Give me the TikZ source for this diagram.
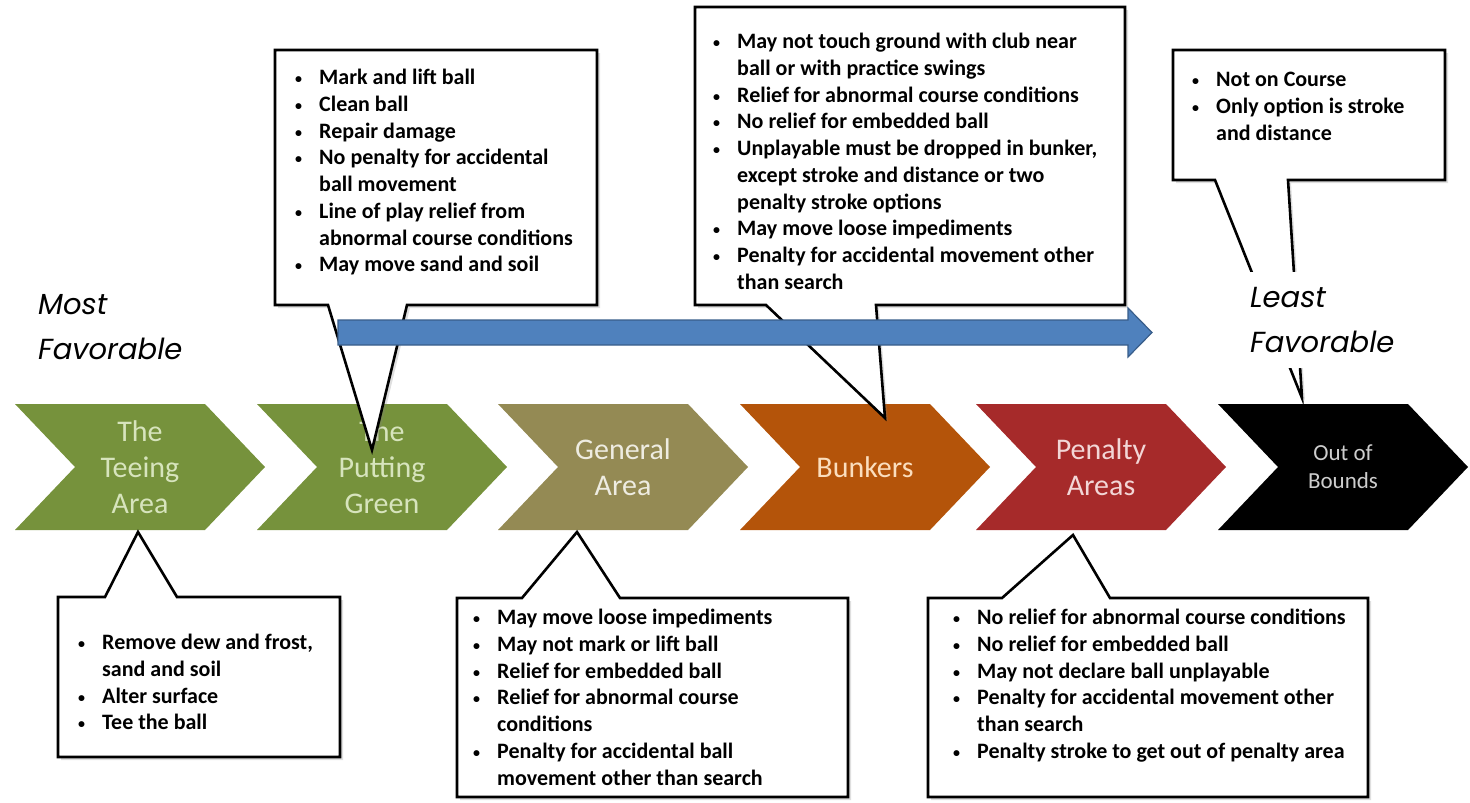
\documentclass[tikz,border=0pt]{standalone}
\usepackage{fontspec}
\setmainfont{Carlito}
\newfontfamily\favfont{Poppins}
\usetikzlibrary{calc, shadows}

\definecolor{teegreen}{RGB}{118,146,60}
\definecolor{teetext}{RGB}{215,228,189}
\definecolor{genkhaki}{RGB}{148,138,84}
\definecolor{gentext}{RGB}{238,236,225}
\definecolor{bunkbrown}{RGB}{180,84,10}
\definecolor{bunktext}{RGB}{251,222,190}
\definecolor{penred}{RGB}{166,42,42}
\definecolor{pentext}{RGB}{242,214,214}
\definecolor{oobtext}{RGB}{205,205,205}
\definecolor{trendblue}{RGB}{79,129,189}
\definecolor{trendedge}{RGB}{56,93,138}

\newcommand{\bul}{\strut\makebox[24pt][l]{\raisebox{1pt}{\fontsize{14}{14}\selectfont\textbullet}}}
\newcommand{\ind}{\strut\hspace*{24pt}}

\begin{document}
\begin{tikzpicture}[x=1pt, y=-1pt,
    zone/.style={align=center, inner sep=0pt},
    notebox/.style={draw=black, line width=2.6pt, fill=white,
      drop shadow={shadow xshift=3pt, shadow yshift=-3pt, opacity=0.25}},
    note/.style={anchor=north west, align=left, inner sep=0pt,
      font=\bfseries\fontsize{22}{26.7}\selectfont},
    trend/.style={fill=trendblue, draw=trendedge, line width=1.2pt},
    fav/.style={align=left, inner sep=0pt, font=\favfont\itshape\fontsize{29}{45}\selectfont}]

  \useasboundingbox (0,0) rectangle (1470,803);

  % the six areas, most to least favorable
  \foreach \x/\nm/\col/\tcol/\fs/\bs/\txt in {
      15/tee/teegreen/teetext/30/36/{The\\Teeing\\Area},
      257/put/teegreen/teetext/30/36/{The\\Putting\\Green},
      498/gen/genkhaki/gentext/30/36/{General\\Area},
      740/bunk/bunkbrown/bunktext/30/36/{Bunkers},
      976/pen/penred/pentext/30/36/{Penalty\\Areas},
      1218/oob/black/oobtext/23/28/{Out of\\Bounds}} {
    \fill[\col] (\x,404) -- ++(190,0) -- ++(60,63) -- ++(-60,63) -- ++(-190,0) -- ++(60,-63) -- cycle;
    \coordinate (\nm-n) at (\x+125,404);
    \coordinate (\nm-s) at (\x+125,530);
    \node[zone, text=\tcol, font=\fontsize{\fs}{\bs}\selectfont] (\nm) at (\x+125,467) {\txt};
  }

  % callout tips
  \coordinate (teetip) at ($(tee-s)+(-2,2)$);
  \coordinate (puttip) at ($(put-n)+(-10,46)$);
  \coordinate (gentip) at ($(gen-s)+(-46,2)$);
  \coordinate (bunktip) at ($(bunk-n)+(20,14)$);
  \coordinate (pentip) at ($(pen-s)+(-28,5)$);
  \coordinate (oobtip) at ($(oob-n)+(-41,-6)$);

  % callouts
  \draw[notebox] (58,597) -- (105,597) -- (teetip) -- (177,597) -- (340,597) -- (340,757) -- (58,757) -- cycle;
  \draw[notebox] (275,50) -- (597,50) -- (597,305) -- (407,305) -- (puttip) -- (328,305) -- (275,305) -- cycle;
  \draw[notebox] (695,7) -- (1125,7) -- (1125,305) -- (876,305) -- (bunktip) -- (766,305) -- (695,305) -- cycle;
  \draw[notebox] (457,598) -- (522,598) -- (gentip) -- (620,598) -- (848,598) -- (848,797) -- (457,797) -- cycle;
  \draw[notebox] (928,598) -- (1002,598) -- (pentip) -- (1110,598) -- (1368,598) -- (1368,797) -- (928,797) -- cycle;
  \draw[notebox] (1173,50) -- (1445,50) -- (1445,180) -- (1288,180) -- (oobtip) -- (1215,180) -- (1173,180) -- cycle;

  \node[note] (teenote) at (78,631) {\bul Remove dew and frost,\\ \ind sand and soil\\ \bul Alter surface\\ \bul Tee the ball};
  \node[note] (putnote) at (295,66) {\bul Mark and lift ball\\ \bul Clean ball\\ \bul Repair damage\\
    \bul No penalty for accidental\\ \ind ball movement\\ \bul Line of play relief from\\
    \ind abnormal course conditions\\ \bul May move sand and soil};
  \node[note] (bunknote) at (713,30) {\bul May not touch ground with club near\\ \ind ball or with practice swings\\
    \bul Relief for abnormal course conditions\\ \bul No relief for embedded ball\\
    \bul Unplayable must be dropped in bunker,\\ \ind except stroke and distance or two\\
    \ind penalty stroke options\\ \bul May move loose impediments\\
    \bul Penalty for accidental movement other\\ \ind than search};
  \node[note] (gennote) at (473,606) {\bul May move loose impediments\\ \bul May not mark or lift ball\\
    \bul Relief for embedded ball\\ \bul Relief for abnormal course\\ \ind conditions\\
    \bul Penalty for accidental ball\\ \ind movement other than search};
  \node[note] (pennote) at (953,606) {\bul No relief for abnormal course conditions\\ \bul No relief for embedded ball\\
    \bul May not declare ball unplayable\\ \bul Penalty for accidental movement other\\ \ind than search\\
    \bul Penalty stroke to get out of penalty area};
  \node[note] (oobnote) at (1192,68) {\bul Not on Course\\ \bul Only option is stroke\\ \ind and distance};

  % favorability trend
  \draw[trend] (338,320) -- (1128,320) -- (1128,308) -- (1152,332.5) -- (1128,357) -- (1128,345) -- (338,345) -- cycle;
  \node[fav, anchor=west] (most) at (38,327) {Most\\Favorable};
  \node[fav, anchor=west, fill=white, inner ysep=15pt, inner xsep=3pt] (least) at (1247,320) {Least\\Favorable};
\end{tikzpicture}
\end{document}
